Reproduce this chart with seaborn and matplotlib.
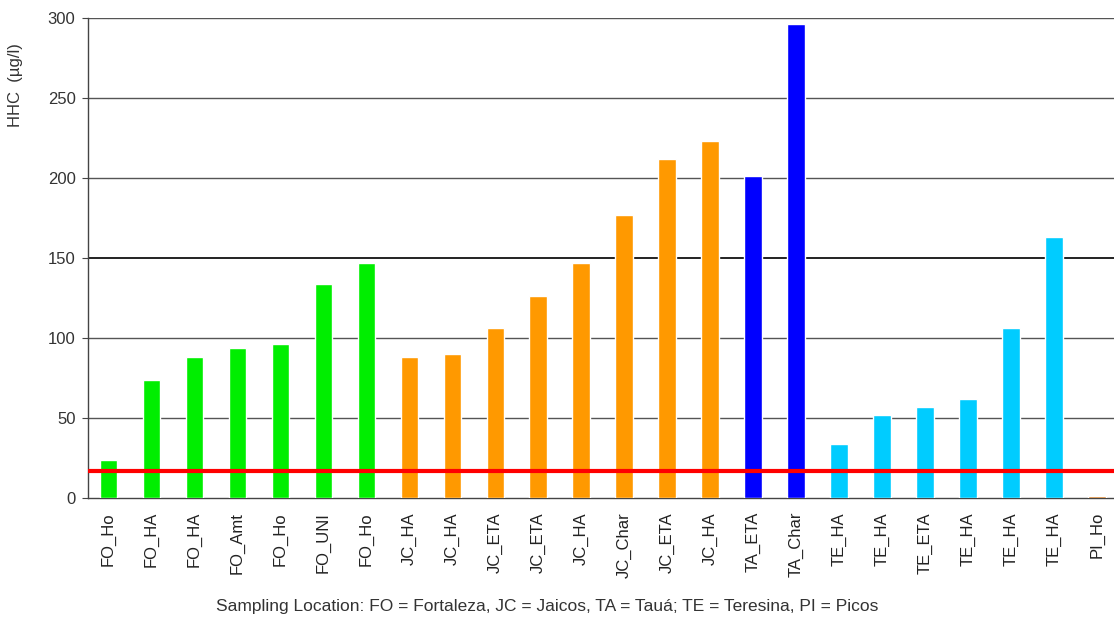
import numpy as np
import pandas as pd
import matplotlib
matplotlib.use('Agg')
import matplotlib.pyplot as plt
import seaborn as sns

# Sampling locations and HHC values
labels = ['FO_Ho', 'FO_HA', 'FO_HA', 'FO_Amt', 'FO_Ho', 'FO_UNI', 'FO_Ho',
          'JC_HA', 'JC_HA', 'JC_ETA', 'JC_ETA', 'JC_HA', 'JC_Char', 'JC_ETA', 'JC_HA',
          'TA_ETA', 'TA_Char',
          'TE_HA', 'TE_HA', 'TE_ETA', 'TE_HA', 'TE_HA', 'TE_HA',
          'PI_Ho']
groups = ['FO'] * 7 + ['JC'] * 8 + ['TA'] * 2 + ['TE'] * 6 + ['PI']
hhc = [24, 74, 88, 94, 96, 134, 147,
       88, 90, 106, 126, 147, 177, 212, 223,
       201, 296,
       34, 52, 57, 62, 106, 163,
       1]
limit = 17
palette = {'FO': '#00ee00', 'JC': '#ff9900', 'TA': '#0000ff', 'TE': '#00ccff', 'PI': '#cc6600'}

df = pd.DataFrame({'idx': range(len(labels)), 'label': labels, 'group': groups, 'hhc': hhc})

sns.set_style('white')
plt.rcParams['font.family'] = ['Liberation Sans', 'DejaVu Sans']
fig = plt.figure(figsize=(11.14, 6.21), dpi=100)
ax = fig.add_axes([0.079, 0.198, 0.935, 0.773])

sns.barplot(data=df, x='idx', y='hhc', hue='group', palette=palette, dodge=False,
            width=0.4, saturation=1, legend=False, ax=ax, zorder=3)

# gridlines, 150 drawn darker
for v in [50, 100, 200, 250, 300]:
    ax.axhline(v, color='#555555', lw=1, zorder=1)
ax.axhline(150, color='#111111', lw=1.3, zorder=1)
ax.axhline(limit, color='#ff0000', lw=3, zorder=4)

ax.set_ylim(0, 300)
ax.set_xlim(-0.47, 23.76)
ax.set_yticks(range(0, 301, 50))
ax.set_yticklabels([str(v) for v in range(0, 301, 50)], fontsize=12, color='#333333')
ax.set_xticks(range(len(labels)))
ax.set_xticklabels(labels, rotation=90, fontsize=12, color='#222222')
ax.set_xticks(np.arange(len(labels)) + 0.5, minor=True)
ax.tick_params(axis='x', which='major', length=0, pad=10)
ax.tick_params(axis='x', which='minor', length=4, direction='out', color='#444444')
ax.tick_params(axis='y', length=4, direction='out', color='#444444', pad=5)
ax.tick_params(axis='both', bottom=True, left=True)

for s in ['top', 'right']:
    ax.spines[s].set_visible(False)
for s in ['left', 'bottom']:
    ax.spines[s].set_color('#444444')
    ax.spines[s].set_linewidth(1)

ax.set_ylabel('HHC  (µg/l)', fontsize=12, color='#333333')
ax.yaxis.set_label_coords(-0.062, 0.86)
ax.set_xlabel('Sampling Location: FO = Fortaleza, JC = Jaicos, TA = Tauá; TE = Teresina, PI = Picos',
              fontsize=12.5, color='#333333')
ax.xaxis.set_label_coords(0.441, -0.21)

fig.savefig('out.png', dpi=100)
